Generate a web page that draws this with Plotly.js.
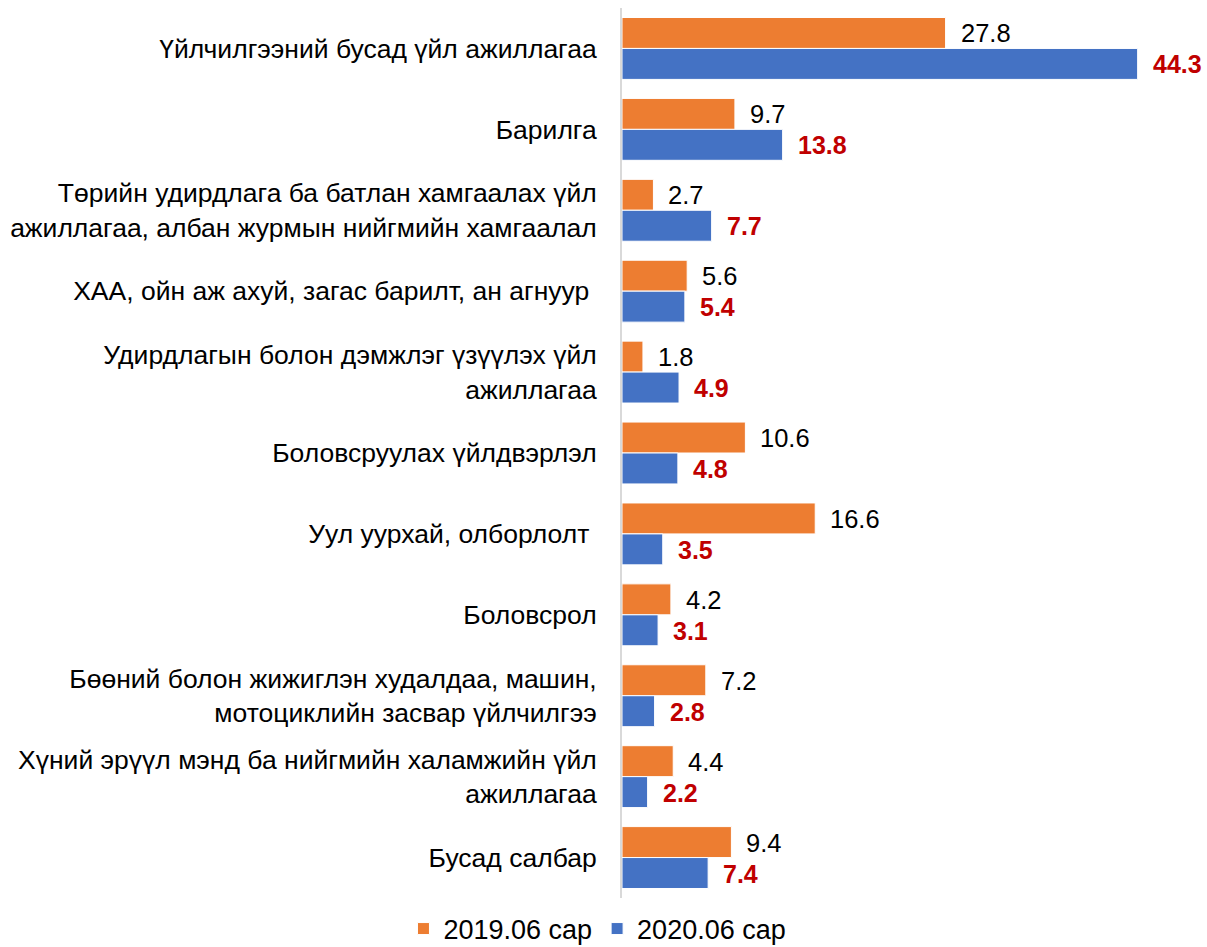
<!DOCTYPE html>
<html>
<head>
<meta charset="utf-8">
<script src="https://cdn.plot.ly/plotly-3.0.1.min.js"></script>
<style>html,body{margin:0;padding:0;background:#fff;}#chart{width:1207px;height:947px;}</style>
</head>
<body>
<div id="chart"></div>
<script>
const categories = [
  "Үйлчилгээний бусад үйл ажиллагаа",
  "Барилга",
  "Төрийн удирдлага ба батлан хамгаалах үйл<br>ажиллагаа, албан журмын нийгмийн хамгаалал",
  "ХАА, ойн аж ахуй, загас барилт, ан агнуур\u00a0",
  "Удирдлагын болон дэмжлэг үзүүлэх үйл<br>ажиллагаа",
  "Боловсруулах үйлдвэрлэл",
  "Уул уурхай, олборлолт\u00a0",
  "Боловсрол",
  "Бөөний болон жижиглэн худалдаа, машин,<br>мотоциклийн засвар үйлчилгээ",
  "Хүний эрүүл мэнд ба нийгмийн халамжийн үйл<br>ажиллагаа",
  "Бусад салбар"
];
const values2019 = [27.8, 9.7, 2.7, 5.6, 1.8, 10.6, 16.6, 4.2, 7.2, 4.4, 9.4];
const values2020 = [44.3, 13.8, 7.7, 5.4, 4.9, 4.8, 3.5, 3.1, 2.8, 2.2, 7.4];
const seriesNames = ["2019.06 сар", "2020.06 сар"];

const FONT = "Liberation Sans, Arial, sans-serif";
const annotations = [];
categories.forEach((c, i) => {
  annotations.push({x: values2019[i], y: c, xref: "x", yref: "y", text: values2019[i].toFixed(1),
    showarrow: false, xanchor: "left", yanchor: "middle", xshift: 13, yshift: 15,
    font: {family: FONT, size: 25.5, color: "#000"}});
  annotations.push({x: values2020[i], y: c, xref: "x", yref: "y", text: "<b>" + values2020[i].toFixed(1) + "</b>",
    showarrow: false, xanchor: "left", yanchor: "middle", xshift: 13, yshift: -16,
    font: {family: FONT, size: 25, color: "#C00000"}});
});

const traces = [
  {type: "bar", orientation: "h", name: seriesNames[0], y: categories, x: values2019,
   marker: {color: "#ED7D31", line: {color: "#fff", width: 1}}, hoverinfo: "none"},
  {type: "bar", orientation: "h", name: seriesNames[1], y: categories, x: values2020,
   marker: {color: "#4472C4", line: {color: "#fff", width: 1}}, hoverinfo: "none"}
];

const layout = {
  width: 1207, height: 947,
  margin: {l: 622, r: 3, t: 8, b: 48.5},
  paper_bgcolor: "#fff", plot_bgcolor: "#fff",
  barmode: "group", bargap: 0.235, bargroupgap: 0,
  showlegend: true,
  legend: {orientation: "h", xref: "container", yref: "container", x: 0.495, xanchor: "center",
    y: 0.019, yanchor: "middle", font: {family: FONT, size: 27, color: "#000"},
    itemwidth: 30, tracegroupgap: 0, traceorder: "normal"},
  xaxis: {range: [0, 50], showgrid: false, zeroline: false, showline: false, showticklabels: false, fixedrange: true},
  yaxis: {autorange: "reversed", showgrid: false, zeroline: false, showline: true, linecolor: "#d9d9d9", linewidth: 2,
    ticks: "outside", ticklen: 18, tickcolor: "rgba(0,0,0,0)",
    tickfont: {family: FONT, size: 26.5, color: "#000"}, fixedrange: true},
  font: {family: FONT},
  annotations: annotations
};

Plotly.newPlot("chart", traces, layout, {displayModeBar: false, staticPlot: true});
</script>
</body>
</html>
